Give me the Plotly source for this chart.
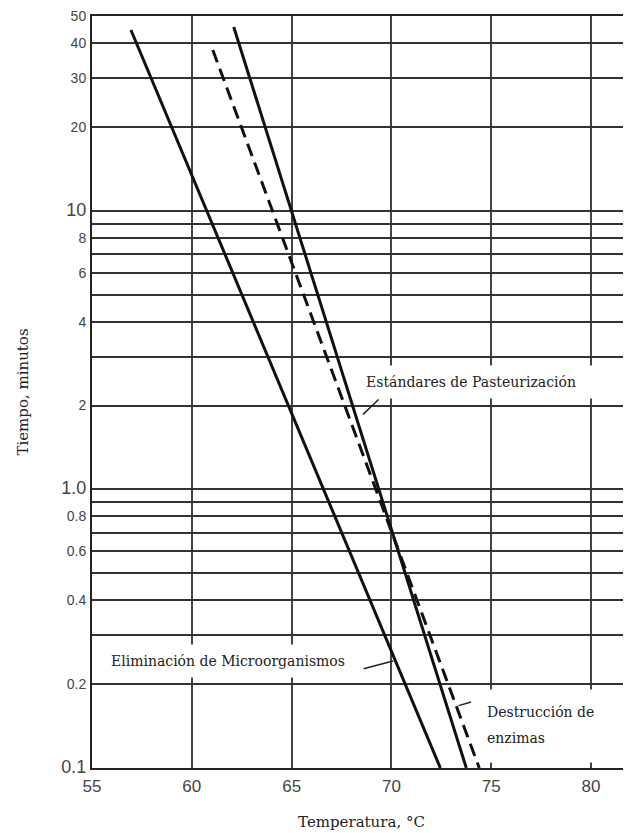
import math
import plotly.graph_objects as go

# ---------------- data ----------------
temp_micro = [56.95, 72.45]
time_micro = [44.6, 0.1]

temp_past = [62.1, 73.75]
time_past = [45.7, 0.1]

temp_enz = [61.05, 74.4]
time_enz = [37.8, 0.1]

x_ticks = [55, 60, 65, 70, 75, 80]
x_ticklabels = ["55", "60", "65", "70", "75", "80"]

y_grid = [50, 40, 30, 20, 10, 9, 8, 7, 6, 5, 4, 3, 2, 1, 0.9, 0.8, 0.7, 0.6, 0.5, 0.4, 0.3, 0.2, 0.1]
y_labels = ["50", "40", "30", "20", "10", "", "8", "", "6", "", "4", "", "2", "1.0", "",
            "0.8", "", "0.6", "", "0.4", "", "0.2", "0.1"]
y_big = ["10", "1.0", "0.1"]

label_past = "Estándares de Pasteurización"
label_micro = "Eliminación de Microorganismos"
label_enz_1 = "Destrucción de"
label_enz_2 = "enzimas"

# ---------------- figure ----------------
SERIF = "DejaVu Serif"
SANS = "Liberation Sans, Arial, sans-serif"
INK = "#111111"
TXT = "#222222"
L = math.log10


def fmt(t):
    if t in y_big:
        return f"<span style='font-size:18px'>{t}</span>"
    return t


fig = go.Figure()
fig.add_trace(go.Scatter(x=temp_micro, y=time_micro, mode="lines",
                         line=dict(color=INK, width=3), hoverinfo="skip", showlegend=False))
fig.add_trace(go.Scatter(x=temp_past, y=time_past, mode="lines",
                         line=dict(color=INK, width=3), hoverinfo="skip", showlegend=False))
fig.add_trace(go.Scatter(x=temp_enz, y=time_enz, mode="lines",
                         line=dict(color=INK, width=3, dash="13px,7px"), hoverinfo="skip", showlegend=False))

# text boxes (white background hides the grid like the original)
fig.add_annotation(x=68.68, y=0.3853, xref="x", yref="y", text=label_past, showarrow=False,
                   font=dict(family=SERIF, size=14, color=TXT), bgcolor="white", align="left",
                   width=236, height=32, borderpad=0, xanchor="left", yanchor="middle")
fig.add_annotation(x=61.81, y=-0.6162, xref="x", yref="y", text=label_micro, showarrow=False,
                   font=dict(family=SERIF, size=14, color=TXT), bgcolor="white",
                   width=250, height=32, borderpad=0, xanchor="center", yanchor="middle")
fig.add_annotation(x=74.49, y=-0.8495, xref="x", yref="y", text=" ", showarrow=False,
                   bgcolor="white", width=130, height=72, borderpad=0,
                   xanchor="left", yanchor="middle")
fig.add_annotation(x=74.7, y=-0.7992, xref="x", yref="y", text=label_enz_1, showarrow=False,
                   font=dict(family=SERIF, size=14, color=TXT), xanchor="left", yanchor="middle")
fig.add_annotation(x=74.7, y=-0.8925, xref="x", yref="y", text=label_enz_2, showarrow=False,
                   font=dict(family=SERIF, size=14, color=TXT), xanchor="left", yanchor="middle")

# leader lines (arrow-only annotations, log coordinates on the y axis)
leaders = [((69.43, 0.328), (68.58, 0.2695)),
           ((68.53, -0.6449), (70.08, -0.6162)),
           ((73.29, -0.7777), (73.99, -0.7633))]
for (xa, ya), (xb, yb) in leaders:
    fig.add_annotation(x=xb, y=yb, ax=xa, ay=ya, xref="x", yref="y", axref="x", ayref="y",
                       text="", showarrow=True, arrowhead=0, arrowwidth=1.5, arrowcolor=TXT,
                       standoff=0, startstandoff=0)

fig.update_layout(
    width=623, height=825,
    margin=dict(l=84, r=0, t=8, b=65),
    plot_bgcolor="white", paper_bgcolor="white",
    showlegend=False,
    xaxis=dict(
        range=[55, 82], tickvals=x_ticks, ticktext=x_ticklabels, automargin=False,
        showgrid=True, gridcolor="#444", gridwidth=1.5,
        showline=True, linecolor="#222", linewidth=2, mirror="all",
        zeroline=False, ticks="", ticklabelstandoff=2,
        tickfont=dict(family=SANS, size=17, color="#444"),
        title=dict(text="Temperatura, °C", font=dict(family=SERIF, size=15, color=TXT), standoff=21),
    ),
    yaxis=dict(
        type="log", range=[L(0.1), L(50) + 0.0005], automargin=False,
        tickvals=y_grid, ticktext=[fmt(t) for t in y_labels],
        showgrid=True, gridcolor="#333", gridwidth=1.6,
        showline=True, linecolor="#222", linewidth=2,
        zeroline=False, ticks="", ticklabelstandoff=1,
        tickfont=dict(family=SANS, size=14, color="#444"),
        title=dict(text="Tiempo, minutos", font=dict(family=SERIF, size=15, color=TXT), standoff=29),
    ),
)

fig.write_html("out.html")
